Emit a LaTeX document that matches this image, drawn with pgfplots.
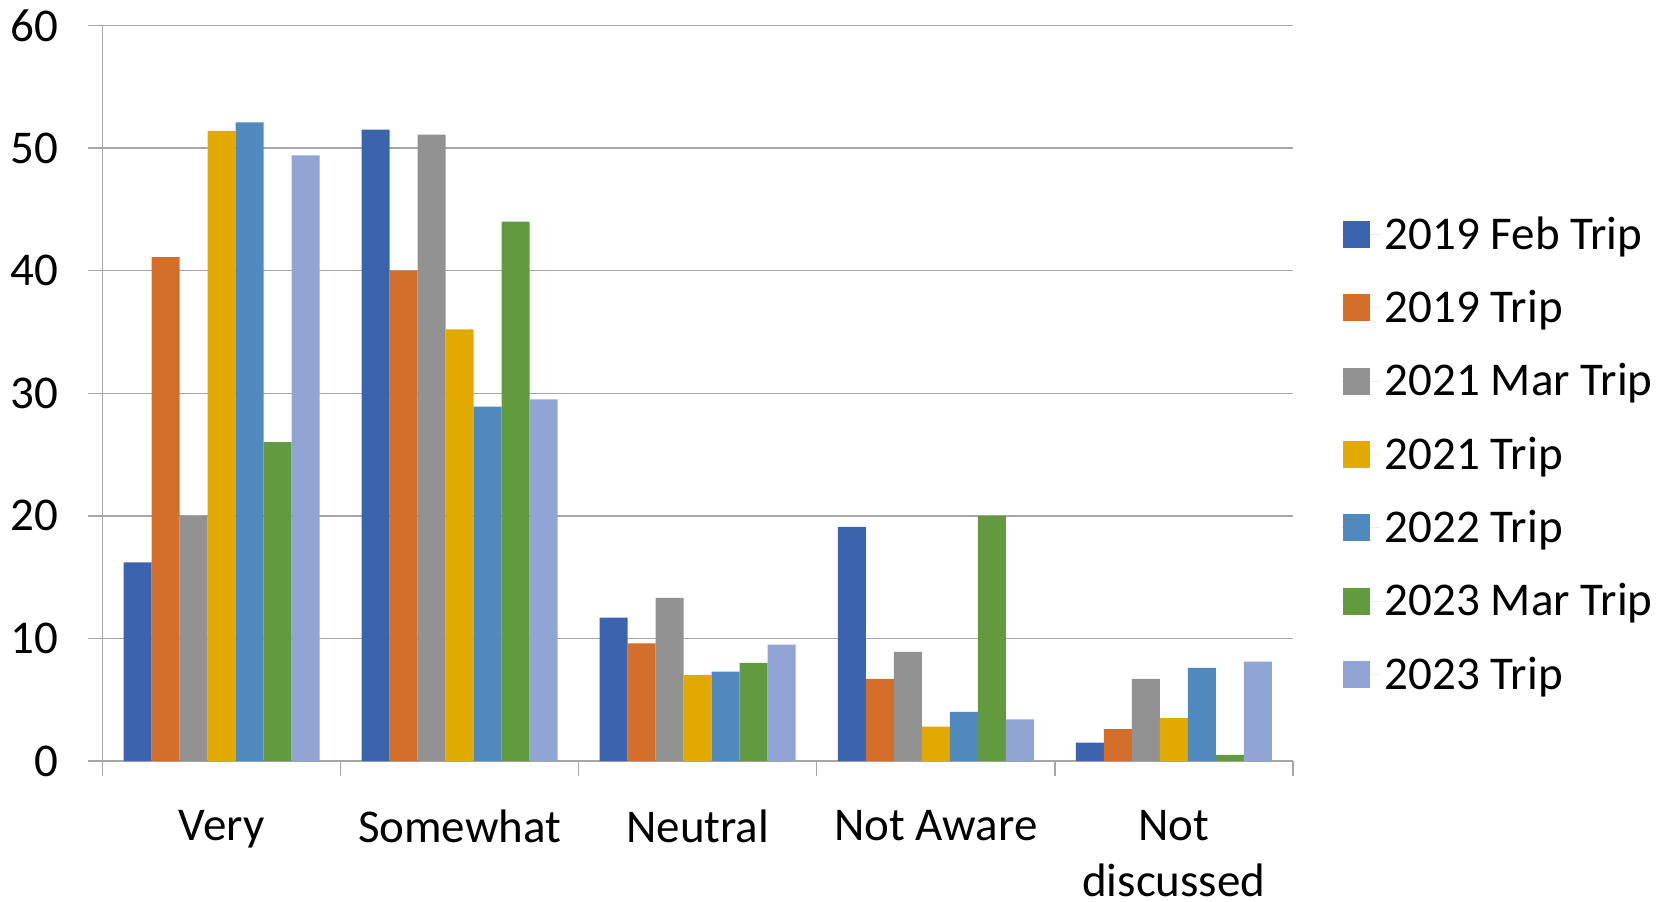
\documentclass[border=0pt]{standalone}
\usepackage{pgfplots}
\pgfplotsset{compat=1.18}
\usepackage{fontspec}
\setmainfont{Carlito}
\definecolor{c1}{HTML}{3C64AE}
\definecolor{c2}{HTML}{D46E2B}
\definecolor{c3}{HTML}{929292}
\definecolor{c4}{HTML}{E2AA00}
\definecolor{c5}{HTML}{4F89BE}
\definecolor{c6}{HTML}{629B3F}
\definecolor{c7}{HTML}{91A5D4}
\definecolor{axgray}{HTML}{A6A6A6}
\pgfplotsset{sqlegend/.style={legend image code/.code={\fill[##1] (1pt,-6.75pt) rectangle (14.5pt,6.75pt);\path (0pt,0pt) -- (20pt,0pt);}}}
\begin{document}
\begin{tikzpicture}
\path[use as bounding box] (-51.25pt,-70pt) rectangle (785.75pt,380.5pt);
\begin{axis}[
  at={(0,0)}, anchor=south west,
  scale only axis, width=595.2pt, height=367.8pt,
  ybar=0pt, bar width=14pt,
  xmin=-0.5, xmax=4.5, ymin=0, ymax=60,
  axis x line=bottom, axis y line=left,
  axis line style={-, draw=axgray, line width=0.7pt},
  ytick={0,10,...,60},
  ymajorgrids, grid style={draw=axgray, line width=0.7pt},
  tick align=outside,
  major tick length=7pt,
  y tick style={draw=axgray, line width=0.7pt},
  xtick={0,1,2,3,4},
  xticklabels={Very,Somewhat,Neutral,Not Aware,Not\\discussed},
  major x tick style={draw=none},
  minor xtick={-0.5,0.5,1.5,2.5,3.5,4.5},
  minor tick length=7.5pt,
  minor x tick style={draw=axgray, line width=0.7pt},
  /pgf/number format/assume math mode=true,
  ticklabel style={font=\fontsize{23.5}{28.3}\selectfont},
  xticklabel style={anchor=north, align=center, yshift=-14pt},
  yticklabel style={anchor=east, xshift=-11.5pt},
  legend style={at={(axis description cs:1.035,0.417)}, anchor=west, draw=none, fill=none,
    font=\fontsize{23.5}{28.3}\selectfont, row sep=15pt},
  legend cell align=left,
]
\addplot[fill=c1, draw=none, sqlegend] coordinates {(0,16.2) (1,51.5) (2,11.7) (3,19.1) (4,1.5)};
\addplot[fill=c2, draw=none, sqlegend] coordinates {(0,41.1) (1,40.0) (2,9.6) (3,6.7) (4,2.6)};
\addplot[fill=c3, draw=none, sqlegend] coordinates {(0,20.0) (1,51.1) (2,13.3) (3,8.9) (4,6.7)};
\addplot[fill=c4, draw=none, sqlegend] coordinates {(0,51.4) (1,35.2) (2,7.0) (3,2.8) (4,3.5)};
\addplot[fill=c5, draw=none, sqlegend] coordinates {(0,52.1) (1,28.9) (2,7.3) (3,4.0) (4,7.6)};
\addplot[fill=c6, draw=none, sqlegend] coordinates {(0,26.0) (1,44.0) (2,8.0) (3,20.0) (4,0.5)};
\addplot[fill=c7, draw=none, sqlegend] coordinates {(0,49.4) (1,29.5) (2,9.5) (3,3.4) (4,8.1)};
\legend{2019 Feb Trip,2019 Trip,2021 Mar Trip,2021 Trip,2022 Trip,2023 Mar Trip,2023 Trip}
\end{axis}
\end{tikzpicture}
\end{document}
